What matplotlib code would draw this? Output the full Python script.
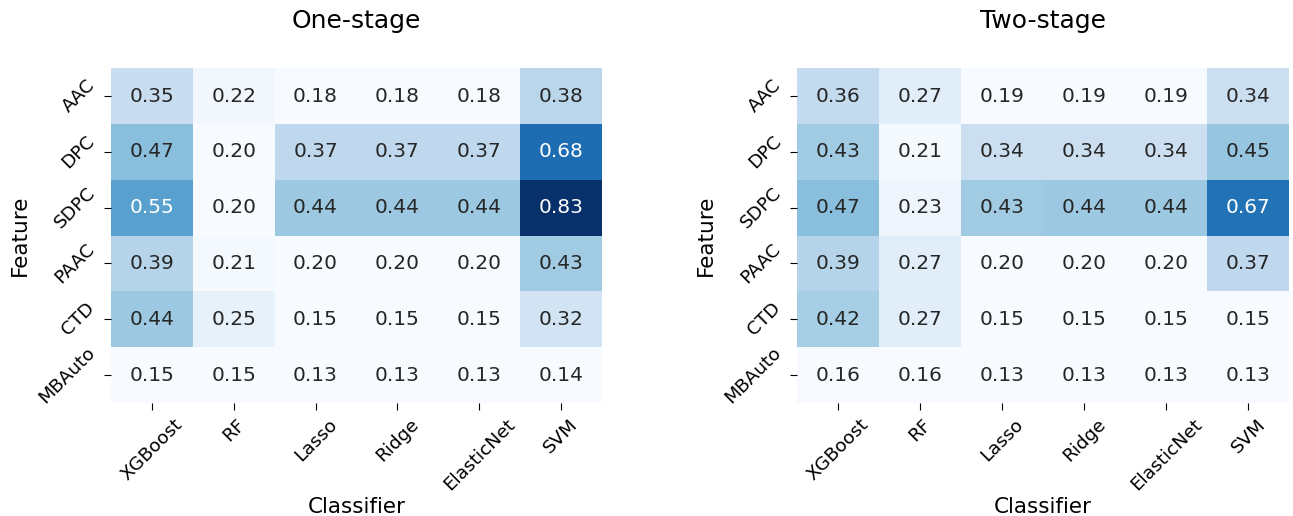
import matplotlib
matplotlib.use("Agg")
import matplotlib.pyplot as plt
import seaborn as sns
import numpy as np
import pandas as pd

features = ["AAC", "DPC", "SDPC", "PAAC", "CTD", "MBAuto"]
classifiers = ["XGBoost", "RF", "Lasso", "Ridge", "ElasticNet", "SVM"]

one_stage = [
    [0.35, 0.22, 0.18, 0.18, 0.18, 0.38],
    [0.47, 0.20, 0.37, 0.37, 0.37, 0.68],
    [0.55, 0.20, 0.44, 0.44, 0.44, 0.83],
    [0.39, 0.21, 0.20, 0.20, 0.20, 0.43],
    [0.44, 0.25, 0.15, 0.15, 0.15, 0.32],
    [0.15, 0.15, 0.13, 0.13, 0.13, 0.14],
]
two_stage = [
    [0.36, 0.27, 0.19, 0.19, 0.19, 0.34],
    [0.43, 0.21, 0.34, 0.34, 0.34, 0.45],
    [0.47, 0.23, 0.43, 0.44, 0.44, 0.67],
    [0.39, 0.27, 0.20, 0.20, 0.20, 0.37],
    [0.42, 0.27, 0.15, 0.15, 0.15, 0.15],
    [0.16, 0.16, 0.13, 0.13, 0.13, 0.13],
]
titles = ["One-stage", "Two-stage"]

fig = plt.figure(figsize=(12.93, 5.16), dpi=100)
positions = [[0.0858, 0.219, 0.3797, 0.649], [0.6164, 0.219, 0.3805, 0.649]]

for data, title, pos in zip([one_stage, two_stage], titles, positions):
    ax = fig.add_axes(pos)
    df = pd.DataFrame(data, index=features, columns=classifiers)
    sns.heatmap(df, ax=ax, cmap="Blues", vmin=0.2, vmax=0.83, annot=True,
                fmt=".2f", cbar=False, annot_kws={"size": 14.5})
    ax.set_title(title, fontsize=18, pad=29)
    ax.set_xlabel("Classifier", fontsize=15.5, labelpad=2)
    ax.set_ylabel("Feature", fontsize=15.5, labelpad=4)
    ax.set_xticklabels(classifiers, rotation=45, fontsize=13.3)
    ax.set_yticklabels(features, rotation=45, fontsize=13.3, va="center")
    ax.tick_params(length=5, pad=4)

fig.savefig("out.png", dpi=100)
